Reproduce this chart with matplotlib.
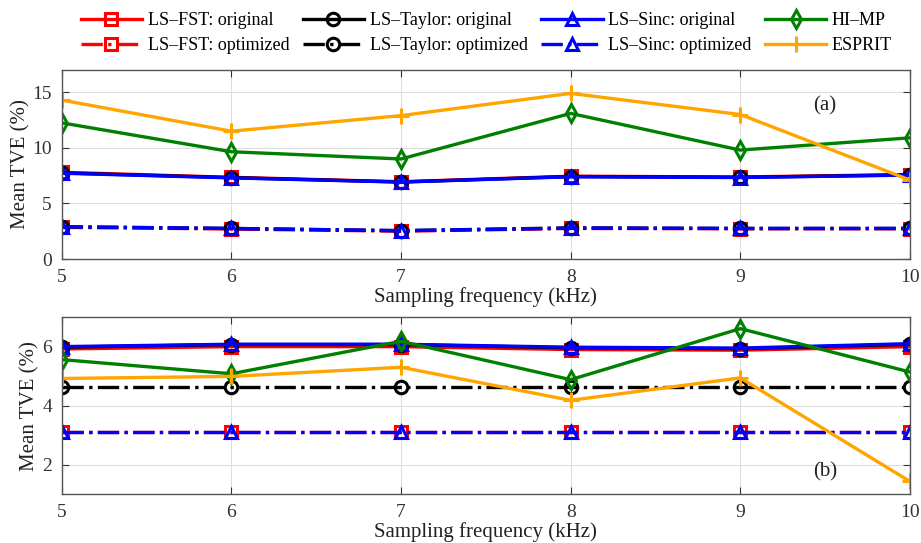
import matplotlib.pyplot as plt

plt.rcParams['font.family'] = ['Liberation Serif', 'DejaVu Serif']
plt.rcParams['mathtext.fontset'] = 'stix'

fs = [5, 6, 7, 8, 9, 10]

# (a) panel values
a_fst_orig = [7.8, 7.35, 6.95, 7.45, 7.38, 7.6]
a_fst_opt = [2.85, 2.7, 2.5, 2.75, 2.72, 2.72]
a_tay_orig = [7.75, 7.32, 6.93, 7.42, 7.35, 7.57]
a_tay_opt = [2.9, 2.75, 2.55, 2.8, 2.75, 2.75]
a_sinc_orig = [7.72, 7.3, 6.92, 7.4, 7.33, 7.55]
a_sinc_opt = [2.9, 2.75, 2.55, 2.78, 2.75, 2.75]
a_himp = [12.25, 9.65, 9.0, 13.1, 9.8, 10.9]
a_esprit = [14.3, 11.5, 12.9, 14.9, 13.0, 7.1]

# (b) panel values
b_fst_orig = [5.92, 6.0, 6.0, 5.9, 5.88, 6.0]
b_fst_opt = [3.1, 3.1, 3.1, 3.1, 3.1, 3.1]
b_tay_orig = [5.98, 6.07, 6.07, 5.96, 5.93, 6.08]
b_tay_opt = [4.62, 4.62, 4.62, 4.62, 4.62, 4.62]
b_sinc_orig = [6.0, 6.08, 6.08, 5.98, 5.95, 6.1]
b_sinc_opt = [3.11, 3.11, 3.11, 3.11, 3.11, 3.11]
b_himp = [5.56, 5.08, 6.18, 4.88, 6.61, 5.14]
b_esprit = [4.92, 4.99, 5.3, 4.18, 4.94, 1.43]

names = ['LS\u2013FST: original', 'LS\u2013FST: optimized',
         'LS\u2013Taylor: original', 'LS\u2013Taylor: optimized',
         'LS\u2013Sinc: original', 'LS\u2013Sinc: optimized',
         'HI\u2013MP', 'ESPRIT']
colors = ['red', 'red', 'black', 'black', 'blue', 'blue', 'green', 'orange']
styles = ['-', '-.', '-', '-.', '-', '-.', '-', '-']
markers = ['s', 's', 'o', 'o', '^', '^', 'd', '+']

fig = plt.figure(figsize=(9.21, 5.43), dpi=100)
ax1 = fig.add_axes([0.067, 0.523, 0.921, 0.348])
ax2 = fig.add_axes([0.067, 0.090, 0.921, 0.326])

panels = [
    (ax1, [a_fst_orig, a_fst_opt, a_tay_orig, a_tay_opt, a_sinc_orig, a_sinc_opt, a_himp, a_esprit]),
    (ax2, [b_fst_orig, b_fst_opt, b_tay_orig, b_tay_opt, b_sinc_orig, b_sinc_opt, b_himp, b_esprit]),
]

handles = []
for ax, series in panels:
    hs = []
    for vals, name, c, ls, m in zip(series, names, colors, styles, markers):
        h, = ax.plot(fs, vals, color=c, linestyle=ls, marker=m, lw=2.4,
                     ms=9 if m != '+' else 11, mfc='none', mew=2.2, label=name)
        hs.append(h)
    handles = hs
    ax.set_xlim(5, 10)
    ax.set_xticks(fs)
    ax.grid(True, color='#dddddd', lw=0.8)
    ax.set_axisbelow(True)
    ax.tick_params(direction='in', labelsize=14, colors='#333333', length=5,
                   top=True, right=True, pad=7)
    for sp in ax.spines.values():
        sp.set_color('#555555')
        sp.set_linewidth(1.0)
    ax.set_xlabel('Sampling frequency (kHz)', fontsize=15, color='#222222', labelpad=1)

ax1.set_ylabel('Mean TVE (%)', fontsize=15, color='#222222', labelpad=1)
ax2.set_ylabel('Mean TVE (%)', fontsize=15, color='#222222', labelpad=2)

ax1.set_ylim(0, 17)
ax1.set_yticks([0, 5, 10, 15])
ax2.set_ylim(1, 7)
ax2.set_yticks([2, 4, 6])

ax1.text(9.5, 13.8, '(a)', fontsize=15, color='#222222', ha='center', va='center')
ax2.text(9.5, 1.77, '(b)', fontsize=15, color='#222222', ha='center', va='center')

fig.legend(handles, names, loc='upper center', bbox_to_anchor=(0.528, 1.008), ncol=4,
           frameon=False, fontsize=13, handlelength=3.4, columnspacing=0.75,
           handletextpad=0.3, labelspacing=0.45)

fig.savefig('out.png', dpi=100)
